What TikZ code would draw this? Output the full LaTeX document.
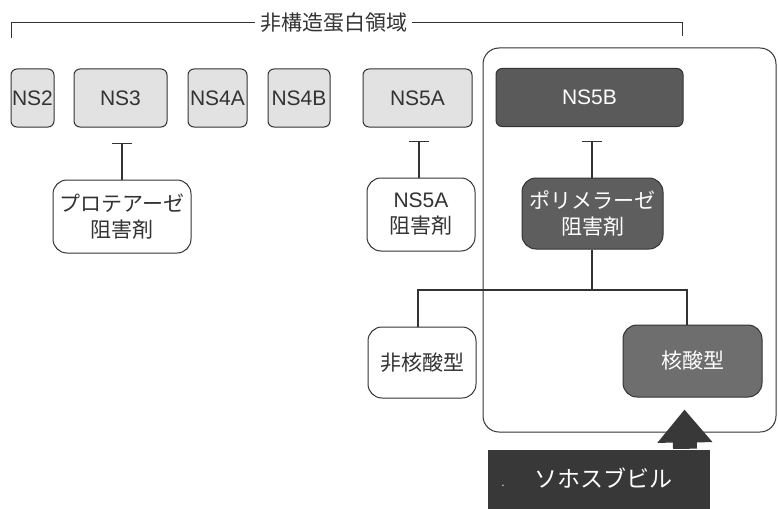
\documentclass[tikz,border=0pt]{standalone}
\usepackage{fontspec}
\setmainfont{Liberation Sans}
\newfontfamily\jp{Noto Sans CJK JP}
\usetikzlibrary{arrows.meta}
\definecolor{ink}{HTML}{333333}
\definecolor{lightfill}{HTML}{E2E2E2}
\definecolor{ns5bfill}{HTML}{5A5A5A}
\definecolor{polyfill}{HTML}{5E5E5E}
\definecolor{nucfill}{HTML}{6E6E6E}
\definecolor{sofofill}{HTML}{383838}
\begin{document}
\begin{tikzpicture}[x=1pt,y=-1pt,
  nsbox/.style={draw=ink, line width=1pt, rounded corners=6pt, fill=lightfill, text=ink,
    font=\fontsize{21}{24}\selectfont, inner sep=0pt, minimum height=58pt},
  darkns/.style={nsbox, fill=ns5bfill, text=white},
  drugbox/.style={draw=ink, line width=1pt, rounded corners=14pt, fill=white, text=ink,
    font=\fontsize{21}{26}\selectfont, inner sep=0pt, align=center},
  darkdrug/.style={drugbox, fill=polyfill, text=white},
  frame/.style={draw=ink, line width=1pt, rounded corners=16pt, inner sep=0pt},
  link/.style={draw=ink, line width=1.3pt},
  inhib/.style={link, -{Bar[width=20pt, line width=1.3pt]}},
  blockarrow/.style={draw=sofofill, line width=24pt, -{Triangle[width=53pt, length=33pt]}}
]
\useasboundingbox (0,0) rectangle (778,508);

% bracket for non-structural region
\node[text=ink, font=\jp\fontsize{21}{24}\selectfont, inner sep=5pt] (region) at (333.5,23) {非構造蛋白領域};
\coordinate (bl) at (11,38);
\coordinate (br) at (682,36);
\draw[link, line width=1pt] (bl) |- (region.west);
\draw[link, line width=1pt] (region.east) -| (br);

% NS5B grouping frame
\node[frame, minimum width=293pt, minimum height=384pt] (grp) at (629.5,240) {};

% protein boxes
\node[nsbox, minimum width=43pt] (ns2) at (32.5,98) {NS2};
\node[nsbox, minimum width=93pt] (ns3) at (120.5,98) {NS3};
\node[nsbox, minimum width=59pt] (ns4a) at (217.5,98) {NS4A};
\node[nsbox, minimum width=62pt] (ns4b) at (299,98) {NS4B};
\node[nsbox, minimum width=109pt] (ns5a) at (417.5,98) {NS5A};
\node[darkns, minimum width=187pt] (ns5b) at (589.5,97.5) {NS5B};

% inhibitors
\node[drugbox, minimum width=138pt, minimum height=73pt] (prot) at (122,216.5) {{\jp プロテアーゼ}\\{\jp 阻害剤}};
\node[drugbox, minimum width=108pt, minimum height=73pt] (ns5ai) at (421,214.5) {NS5A\\{\jp 阻害剤}};
\node[darkdrug, minimum width=141pt, minimum height=71pt] (poly) at (592.5,213.5) {{\jp ポリメラーゼ}\\{\jp 阻害剤}};

\coordinate (t1) at (122,143);
\coordinate (t2) at (419,141);
\coordinate (t3) at (592,141);
\draw[inhib] (prot.north) -- (prot.north |- t1);
\draw[inhib] ([xshift=-2pt]ns5ai.north) -- (t2);
\draw[inhib] (poly.north -| t3) -- (t3);

% polymerase subclasses
\node[drugbox, minimum width=108pt, minimum height=71pt] (nonnuc) at (422,362.5) {\jp 非核酸型};
\node[darkdrug, fill=nucfill, minimum width=139pt, minimum height=72pt] (nuc) at (692.5,361) {\jp 核酸型};
\coordinate (j) at (592,290);
\draw[link] (poly.south -| j) -- (j);
\draw[link] ([xshift=-4pt]nonnuc.north) |- (j);
\draw[link] ([xshift=-5.5pt]nuc.north) |- (j);

% sofosbuvir
\node[fill=sofofill, minimum width=222pt, minimum height=60pt, inner sep=0pt] (sofo) at (599,480) {};
\node[text=white, font=\jp\fontsize{23}{26}\selectfont, inner sep=0pt] (sofot) at (603,478) {ソホスブビル};
\node[text=white, font=\fontsize{12}{12}\selectfont, inner sep=0pt] (dot) at (503,486) {.};
\draw[blockarrow] ([xshift=86pt, yshift=1pt]sofo.north) -- ([xshift=-8pt, yshift=-12pt]nuc.south);
\end{tikzpicture}
\end{document}
